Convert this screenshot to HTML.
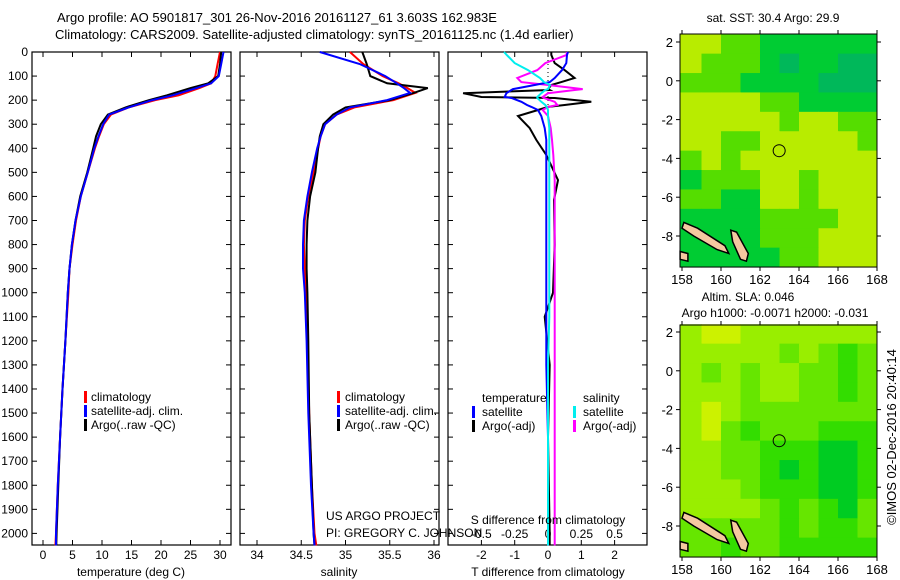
<!DOCTYPE html>
<html><head><meta charset="utf-8">
<style>
html,body{margin:0;padding:0;background:#fff;}
svg{display:block;font-family:"Liberation Sans",sans-serif;}
text{font-size:12px;fill:#000;}
</style></head>
<body>
<svg id="fig" width="900" height="580" viewBox="0 0 900 580" xmlns="http://www.w3.org/2000/svg">
<rect width="900" height="580" fill="#fff"/>
<text x="57" y="22" style="font-size:13px">Argo profile: AO 5901817_301 26-Nov-2016 20161127_61 3.603S 162.983E</text>
<text x="55" y="39" style="font-size:13px">Climatology: CARS2009. Satellite-adjusted climatology: synTS_20161125.nc (1.4d earlier)</text>
<g id="g"></g>
</svg>
<script>
// ---------- data ----------
const depthT = [0,50,100,130,150,180,200,230,260,300,350,400,500,600,700,800,900,1000,1200,1400,1600,1800,2000,2050];
const tempArgo = [30.2,30.0,29.7,28.0,25.0,21.0,18.0,14.0,11.0,9.8,9.0,8.5,7.5,6.3,5.5,4.9,4.5,4.2,3.8,3.3,2.9,2.6,2.3,2.25];
const tempClim = [30.0,29.6,29.2,28.5,26.5,23.0,19.0,14.5,11.5,10.3,9.5,8.8,7.6,6.4,5.6,5.0,4.5,4.3,3.8,3.3,2.9,2.5,2.2,2.1];
const tempSat  = [30.6,30.2,29.8,28.5,26.0,22.0,18.5,14.5,11.2,10.2,9.4,8.7,7.6,6.4,5.5,4.9,4.5,4.2,3.8,3.3,2.9,2.5,2.2,2.2];
const depthS = [0,50,100,130,150,170,200,230,260,300,350,400,500,600,700,800,900,1000,1200,1500,1800,2000,2050];
const salArgo = [35.19,35.24,35.28,35.47,35.93,35.77,35.50,35.00,34.86,34.75,34.71,34.69,34.66,34.60,34.57,34.56,34.56,34.57,34.58,34.59,34.62,34.64,34.65];
const salClim = [35.05,35.20,35.42,35.60,35.70,35.79,35.54,35.10,34.90,34.77,34.72,34.69,34.64,34.58,34.54,34.53,34.54,34.55,34.57,34.59,34.62,34.65,34.67];
const salSat  = [34.71,35.16,35.45,35.58,35.66,35.73,35.47,35.05,34.90,34.77,34.72,34.68,34.62,34.57,34.53,34.52,34.52,34.54,34.56,34.58,34.61,34.64,34.65];
const depthD = [0,12,46,75,108,125,137,154,158,171,187,191,207,220,228,241,266,316,365,428,532,615,800,1000,1100,1300,1600,2000,2050];
const dTArgo = [0.1,0.1,0.2,0.5,0.8,0.4,0.1,0.0,0.05,-2.55,-2.0,0.2,1.3,0.5,0.0,-0.3,-0.9,-0.55,-0.35,-0.05,0.3,0.18,0.2,0.15,-0.1,0.05,0.0,0.05,0.05];
const dTSat  = [0.6,0.57,0.55,0.42,0.2,0.05,-0.4,-1.05,-1.1,-1.25,-1.3,-1.1,-0.8,-0.63,-0.5,-0.3,-0.2,-0.1,-0.05,-0.05,-0.05,-0.05,-0.05,-0.05,-0.05,-0.05,0.0,0.0,0.0];
const dSSat  = [-0.33,-0.31,-0.25,-0.15,-0.06,-0.03,0.015,0.0,-0.02,-0.05,-0.08,-0.08,-0.05,-0.02,-0.01,0.0,0.0,0.01,0.01,0.01,0.01,0.01,0.01,0.01,0.01,0.0,0.0,0.0,0.0];
const dSArgo = [0.14,0.14,-0.02,-0.08,-0.23,-0.2,0.0,0.26,0.2,0.0,-0.04,-0.03,0.05,0.07,0.0,-0.04,0.0,0.02,0.03,0.04,0.05,0.05,0.05,0.05,0.05,0.05,0.05,0.05,0.05];
const depthTicks = [0,100,200,300,400,500,600,700,800,900,1000,1100,1200,1300,1400,1500,1600,1700,1800,1900,2000];
const tempTicks = [0,5,10,15,20,25,30];
const salTicks = [34,34.5,35,35.5,36];
const salTickLabels = ["34","34.5","35","35.5","36"];
const dTTicks = [-2,-1,0,1,2];
const dSTicks = [-0.5,-0.25,0,0.25,0.5];
const dSTickLabels = ["-0.5","-0.25","0","0.25","0.5"];
const lonTicks = [158,160,162,164,166,168];
const latTicks = [2,0,-2,-4,-6,-8];
// SST level grid (rows lat 2.4 -> -9.6 by 1 deg, cols lon 158 -> 168)
const sstGrid = [
[3,3,2,2,1,1,1,1,1,1],
[3,2,2,2,1,0,1,1,0,0],
[2,2,2,1,1,1,1,0,0,0],
[3,3,3,3,2,2,1,1,1,1],
[3,3,3,3,3,2,3,3,2,2],
[3,3,2,2,3,3,3,3,3,2],
[2,3,2,3,3,3,3,3,3,3],
[1,2,2,2,3,3,2,3,3,3],
[2,2,1,1,3,3,2,3,3,3],
[1,1,1,1,2,2,2,2,3,3],
[1,1,1,1,2,2,2,3,3,3],
[1,1,1,1,1,2,2,3,3,3]];
const slaGrid = [
[3,4,4,3,3,3,3,3,3,3],
[3,3,3,3,3,2,3,2,1,2],
[3,2,3,2,3,3,2,2,1,2],
[3,3,3,2,3,3,2,2,1,2],
[3,4,3,2,2,2,2,2,2,2],
[3,4,2,1,2,2,2,1,1,1],
[3,3,2,2,1,1,1,0,0,1],
[3,3,2,2,1,0,1,0,0,1],
[3,3,3,2,1,1,1,0,0,1],
[3,3,3,3,2,1,2,1,0,2],
[2,2,2,2,2,1,2,1,1,2],
[2,2,1,2,2,1,1,1,1,1]];
const argoLon = 162.983, argoLat = -3.603;

// ---------- helpers ----------
const NS="http://www.w3.org/2000/svg";
const G=document.getElementById('g');
function mk(tag,attrs,parent){const e=document.createElementNS(NS,tag);for(const k in attrs)e.setAttribute(k,attrs[k]);(parent||G).appendChild(e);return e;}
const dy = d => 52 + d*0.2407;
const xT = t => 43 + t*5.9;
const xS = s => 257 + (s-34)*88.5;
const xDT = v => 548 + v*33.3;
const xDS = v => 548 + v*133.3;

function profile(xs,ds,f,color,name,w){
  let p=xs.map((v,i)=>(i?'L':'M')+f(v).toFixed(1)+' '+dy(ds[i]).toFixed(1)).join(' ');
  const e=mk('path',{d:p,fill:'none',stroke:color,'stroke-width':w||2});
  
  
}
function panel(x0,x1,name){
  const r=mk('rect',{x:x0,y:52,width:x1-x0,height:493,fill:'none',stroke:'#000','stroke-width':1.2});
  
  
}
function xticks(vals,labels,f,ylab,name){
  vals.forEach((v,i)=>{
    const x=f(v);
    mk('line',{x1:x,y1:52,x2:x,y2:57,stroke:'#000'});
    mk('line',{x1:x,y1:545,x2:x,y2:540,stroke:'#000'});
    const t=mk('text',{x:x,y:ylab,'text-anchor':'middle'});
    t.textContent=labels[i];
    
    
  });
}
panel(32,231,'temperature-panel');
panel(240,439,'salinity-panel');
panel(448,647,'difference-panel');
depthTicks.forEach(d=>{
  const y=dy(d);
  [[32,37],[231,226],[240,245],[439,434],[448,453],[647,642]].forEach(a=>mk('line',{x1:a[0],y1:y,x2:a[1],y2:y,stroke:'#000'}));
  const t=mk('text',{x:28,y:y+4,'text-anchor':'end'});
  t.textContent=d;
  
  
});
xticks(tempTicks,tempTicks.map(String),xT,559,'temperature-tick-label');
xticks(salTicks,salTickLabels,xS,559,'salinity-tick-label');
xticks(dTTicks,dTTicks.map(String),xDT,559,'t-diff-tick-label');
dSTicks.forEach((v,i)=>{
  const t=mk('text',{x:xDS(v),y:538,'text-anchor':'middle'});
  t.textContent=dSTickLabels[i];
  
  
});
const z=mk('line',{x1:xDT(0),y1:52,x2:xDT(0),y2:dy(250),stroke:'#000','stroke-dasharray':'1 3'});


profile(tempClim,depthT,xT,'#f00','temp-climatology-line');
profile(tempArgo,depthT,xT,'#000','temp-argo-line');
profile(tempSat,depthT,xT,'#00f','temp-satellite-line');
profile(salClim,depthS,xS,'#f00','sal-climatology-line');
profile(salArgo,depthS,xS,'#000','sal-argo-line');
profile(salSat,depthS,xS,'#00f','sal-satellite-line');
profile(dTArgo,depthD,xDT,'#000','t-diff-argo-line');
profile(dSArgo,depthD,xDS,'#f0f','s-diff-argo-line');
profile(dTSat,depthD,xDT,'#00f','t-diff-satellite-line');
profile(dSSat,depthD,xDS,'#0ee','s-diff-satellite-line');

function txt(x,y,s,name,extra){const t=mk('text',Object.assign({x:x,y:y},extra||{}));t.textContent=s;return t;}
function legbar(x,y,c){const r=mk('rect',{x:x,y:y-10,width:3,height:12,fill:c});}
[[84,'#f00','climatology',401],[84,'#00f','satellite-adj. clim.',415],[84,'#000','Argo(..raw -QC)',429]].forEach(a=>{legbar(a[0],a[3],a[1]);txt(a[0]+7,a[3],a[2],'legend-entry');});
[[337,'#f00','climatology',401],[337,'#00f','satellite-adj. clim.',415],[337,'#000','Argo(..raw -QC)',429]].forEach(a=>{legbar(a[0],a[3],a[1]);txt(a[0]+8,a[3],a[2],'legend-entry');});
txt(482,402,'temperature','legend-heading');
txt(583,402,'salinity','legend-heading');
legbar(472,416,'#00f');txt(482,416,'satellite','legend-entry');
legbar(472,430,'#000');txt(482,430,'Argo(-adj)','legend-entry');
legbar(573,416,'#0ee');txt(583,416,'satellite','legend-entry');
legbar(573,430,'#f0f');txt(583,430,'Argo(-adj)','legend-entry');
txt(326,520,'US ARGO PROJECT','credit-line');
txt(326,537,'PI: GREGORY C. JOHNSON','credit-line');
txt(548,524,'S difference from climatology','s-diff-axis-title',{'text-anchor':'middle'});
txt(131,576,'temperature (deg C)','temperature-axis-title',{'text-anchor':'middle'});
txt(339,576,'salinity','salinity-axis-title',{'text-anchor':'middle'});
txt(548,576,'T difference from climatology','t-diff-axis-title',{'text-anchor':'middle'});

// ---------- maps ----------
const mx = lon => 682 + (lon-158)*19.5;
const sstColors=['#00b85a','#00cc33','#55dd00','#b8ec00','#eedd00'];
const slaColors=['#00cc22','#33dd00','#66e600','#99ee00','#ccf200'];
function map(top,lat2y,grid,colors,name){
  const my = lat => lat2y + (2-lat)*19.4;
  const L=680,R=877,T=top,B=my(-9.6);
  grid.forEach((row,i)=>row.forEach((v,j)=>{
    const lat0=2.4-i, lat1=Math.max(lat0-1,-9.6);
    const x0=mx(158+j)-(j==0?2:0), x1=(j==9?R:mx(159+j));
    const r=mk('rect',{x:x0,y:my(lat0),width:x1-x0+0.5,height:my(lat1)-my(lat0)+0.5,fill:colors[v]});
    
    
  }));
  const isl=[[[158.1,-7.3],[158.8,-7.6],[160.2,-8.5],[160.4,-8.9],[159.8,-8.7],[158.6,-8.0],[158.0,-7.6]],
             [[160.5,-7.7],[160.8,-7.8],[161.4,-8.9],[161.3,-9.3],[161.0,-9.2],[160.6,-8.3]],
             [[157.9,-8.8],[158.3,-8.9],[158.3,-9.3],[157.9,-9.2]]];
  isl.forEach(p=>{
    const e=mk('polygon',{points:p.map(q=>mx(q[0]).toFixed(1)+','+my(q[1]).toFixed(1)).join(' '),fill:'#f5c8a0',stroke:'#000','stroke-width':1.5});
    
    
  });
  const b=mk('rect',{x:L,y:T,width:R-L,height:B-T,fill:'none',stroke:'#000','stroke-width':1});
  
  
  lonTicks.forEach(lon=>{
    const x=mx(lon);
    mk('line',{x1:x,y1:T,x2:x,y2:T-4,stroke:'#000'});
    mk('line',{x1:x,y1:B,x2:x,y2:B+4,stroke:'#000'});
    const t=mk('text',{x:x,y:B+17,'text-anchor':'middle',style:'font-size:13px'});
    t.textContent=lon;
    
    
  });
  latTicks.forEach(lat=>{
    const y=my(lat);
    mk('line',{x1:L,y1:y,x2:L-4,y2:y,stroke:'#000'});
    mk('line',{x1:R,y1:y,x2:R+4,y2:y,stroke:'#000'});
    const t=mk('text',{x:673,y:y+5,'text-anchor':'end',style:'font-size:13px'});
    t.textContent=lat;
    
    
  });
  const c=mk('circle',{cx:mx(argoLon),cy:my(argoLat),r:6,fill:'none',stroke:'#000','stroke-width':1});
  
  
}
map(34,42,sstGrid,sstColors,'sst-map');
map(325,332,slaGrid,slaColors,'sla-map');
txt(773,22,'sat. SST: 30.4 Argo: 29.9','sst-map-title',{'text-anchor':'middle'});
txt(748,301,'Altim. SLA: 0.046','sla-map-title',{'text-anchor':'middle'});
txt(775,317,'Argo h1000: -0.0071 h2000: -0.031','sla-map-subtitle',{'text-anchor':'middle'});
txt(0,0,'©IMOS 02-Dec-2016 20:40:14','timestamp',{'text-anchor':'middle',transform:'translate(896,437) rotate(-90)',style:'font-size:13px'});
</script>
</body></html>
